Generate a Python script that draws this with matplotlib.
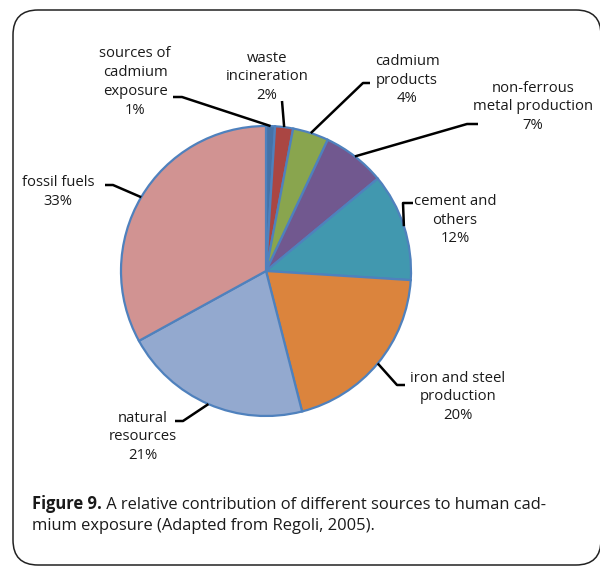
import numpy as np
import matplotlib
matplotlib.use('Agg')
import matplotlib.pyplot as plt
from matplotlib.patches import FancyBboxPatch

plt.rcParams['font.family'] = ['Open Sans', 'DejaVu Sans']

# data
sources = ['sources of\ncadmium\nexposure', 'waste\nincineration', 'cadmium\nproducts',
           'non-ferrous\nmetal production', 'cement and\nothers', 'iron and steel\nproduction',
           'natural\nresources', 'fossil fuels']
shares = [1, 2, 4, 7, 12, 20, 21, 33]
colors = ['#4572A7', '#AA4643', '#89A54E', '#71588F', '#4198AF', '#DB843D', '#93A9CF', '#D19392']

W, H = 600, 566


def px(x, y):
    # picture pixels (y down) -> data coords (y up)
    return x, H - y


# label centre and leader elbow/end, in picture pixels
label_pos = [(135, 82), (267, 77), (407, 80), (533, 107),
             (455, 220), (458, 397), (143, 437), (58, 192)]
elbows = [[(182, 97), (173, 97)], [(282, 101)], [(363, 83), (370, 83)], [(467, 124), (478, 124)],
          [(403, 203), (413, 203)], [(397, 385), (405, 385)], [(183, 421), (175, 421)],
          [(113, 185), (105, 185)]]

fig = plt.figure(figsize=(W / 100, H / 100), dpi=100)
ax = fig.add_axes([0, 0, 1, 1])

cx, cy = px(266, 271)
radius = 145
wedges, _ = ax.pie(shares, colors=colors, startangle=90, counterclock=False,
                   center=(cx, cy), radius=radius,
                   wedgeprops=dict(edgecolor='#4F81BD', linewidth=1.6))

for w, name, v, pos, elb in zip(wedges, sources, shares, label_pos, elbows):
    mid = np.deg2rad((w.theta1 + w.theta2) / 2)
    x0 = cx + radius * np.cos(mid)
    y0 = cy + radius * np.sin(mid)
    xs = [x0] + [px(*p)[0] for p in elb]
    ys = [y0] + [px(*p)[1] for p in elb]
    ax.plot(xs, ys, color='black', lw=1.8, solid_capstyle='butt', zorder=3)
    ax.text(*px(*pos), f'{name}\n{v}%', ha='center', va='center', fontsize=10.7,
            linespacing=1.36, color='#1a1a1a')

# rounded frame, running off the right and bottom edges like the scan
frame = FancyBboxPatch((13, 1), 588, 555, boxstyle='round,pad=0,rounding_size=25',
                       fill=False, edgecolor='#222222', lw=1.1, zorder=1)
ax.add_patch(frame)

# caption
fig_lbl = ax.text(*px(32, 509), 'Figure 9.', fontsize=11.9, fontweight='bold',
                  ha='left', va='baseline', color='#1a1a1a')
ax.annotate(' A relative contribution of different sources to human cad-',
            xy=(1, 0), xycoords=fig_lbl, ha='left', va='bottom', fontsize=11.9,
            color='#1a1a1a')
ax.text(*px(32, 530), 'mium exposure (Adapted from Regoli, 2005).', fontsize=11.9,
        ha='left', va='baseline', color='#1a1a1a')

ax.set_xlim(0, W)
ax.set_ylim(0, H)
ax.set_aspect('equal')
ax.axis('off')

fig.savefig('out.png', dpi=100)
